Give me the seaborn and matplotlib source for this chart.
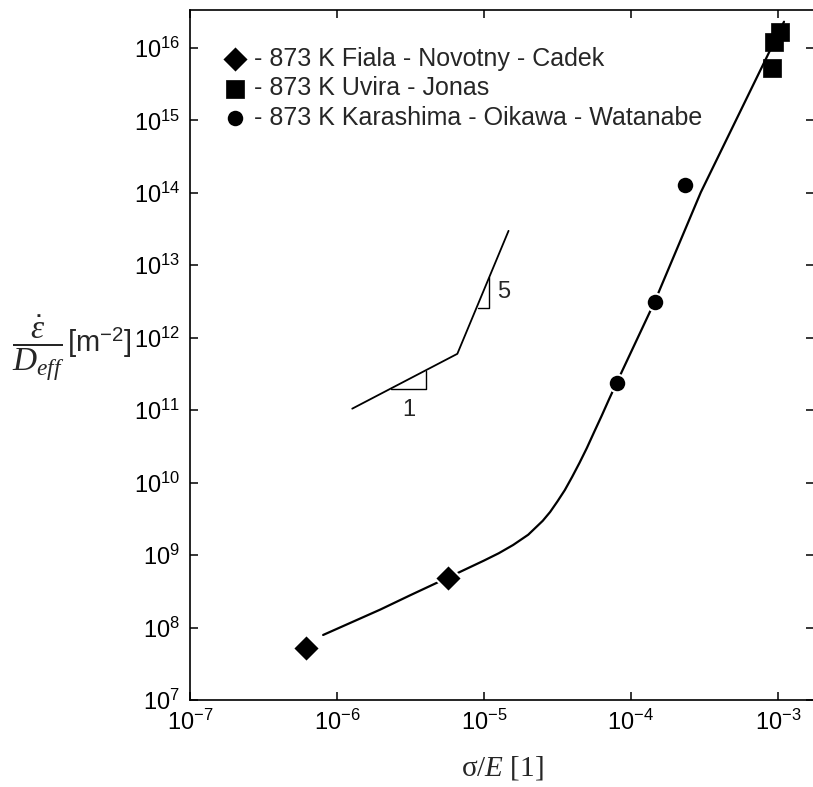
import numpy as np
import pandas as pd
import matplotlib
matplotlib.use("Agg")
import matplotlib.pyplot as plt
import seaborn as sns

# ---- data ----
fiala_x = [6.2e-7, 5.7e-6]
fiala_y = [5.3e7, 4.9e8]
uvira_x = [1.03e-3, 9.4e-4, 9.1e-4]
uvira_y = [1.66e16, 1.2e16, 5.3e15]
kara_x = [2.32e-4, 1.45e-4, 8.0e-5]
kara_y = [1.29e14, 3.14e12, 2.4e11]

curve_x = [8.05e-7, 1.97e-6, 3.16e-6, 5.7e-6, 1.0e-5, 1.26e-5, 1.58e-5, 2.0e-5,
           2.51e-5, 2.82e-5, 3.16e-5, 3.55e-5, 3.98e-5, 4.47e-5, 5.01e-5,
           5.62e-5, 6.31e-5, 7.08e-5, 8.0e-5, 1.45e-4, 2.99e-4, 1.10e-3]
curve_y = [7.9e7, 1.77e8, 2.8e8, 4.9e8, 8.4e8, 1.06e9, 1.38e9, 1.91e9,
           2.97e9, 3.94e9, 5.5e9, 7.9e9, 1.2e10, 1.88e10, 3.0e10,
           5.0e10, 8.3e10, 1.4e11, 2.4e11, 3.14e12, 1.02e14, 2.3e16]

# slope sketch (inset)
sketch_x = [1.27e-6, 6.59e-6, 1.47e-5]
sketch_y = [1.05e11, 6.0e11, 2.99e13]
tri1_x = [2.34e-6, 4.06e-6, 4.06e-6]
tri1_y = [1.98e11, 1.98e11, 3.5e11]
tri5_x = [9.04e-6, 1.09e-5, 1.09e-5]
tri5_y = [2.6e12, 2.6e12, 6.9e12]
slope_labels = ["1", "5"]
slope_label_x = [3.06e-6, 1.36e-5]
slope_label_y = [1.0e11, 4.3e12]

labels = ["- 873 K Fiala - Novotny - Cadek",
          "- 873 K Uvira - Jonas",
          "- 873 K Karashima - Oikawa - Watanabe"]

x_lim = (1e-7, 1.76e-3)
y_lim = (1e7, 3.34e16)
x_ticks = [1e-7, 1e-6, 1e-5, 1e-4, 1e-3]
y_ticks = [10.0 ** k for k in range(7, 17)]

# ---- style ----
sns.set_theme(style="ticks")
plt.rcParams["font.family"] = ["Liberation Sans", "DejaVu Sans"]
plt.rcParams["mathtext.fontset"] = "custom"
plt.rcParams["mathtext.rm"] = "Liberation Sans"
plt.rcParams["mathtext.sf"] = "Liberation Sans"
plt.rcParams["mathtext.it"] = "Liberation Serif:italic"
plt.rcParams["mathtext.bf"] = "Liberation Sans:bold"
plt.rcParams["axes.linewidth"] = 1.2

fig = plt.figure(figsize=(8.13, 7.87), dpi=100)
ax = fig.add_axes([190 / 813, 87 / 787, (814 - 190) / 813, (700 - 10) / 787])
ax.set_xscale("log")
ax.set_yscale("log")

sns.lineplot(x=curve_x, y=curve_y, sort=False, estimator=None, color="black",
             lw=1.6, ax=ax, zorder=2)

sns.scatterplot(x=fiala_x, y=fiala_y, marker="D", s=190, color="black",
                edgecolor="white", linewidth=1.5, label=labels[0], ax=ax, zorder=3)
sns.scatterplot(x=uvira_x, y=uvira_y, marker="s", s=150, color="black",
                edgecolor="black", linewidth=0.5, label=labels[1], ax=ax, zorder=3)
sns.scatterplot(x=kara_x, y=kara_y, marker="o", s=160, color="black",
                edgecolor="white", linewidth=1.5, label=labels[2], ax=ax, zorder=3)

# slope sketch
ax.plot(sketch_x, sketch_y, color="black", lw=1.3)
ax.plot(tri1_x, tri1_y, color="black", lw=1.0)
ax.plot(tri5_x, tri5_y, color="black", lw=1.0)
for t, xx, yy in zip(slope_labels, slope_label_x, slope_label_y):
    ax.text(xx, yy, t, fontsize=17, ha="center", va="center")

ax.set_xlim(*x_lim)
ax.set_ylim(*y_lim)
ax.set_xticks(x_ticks)
ax.set_yticks(y_ticks)
ax.minorticks_off()
ax.tick_params(which="both", direction="in", length=6, width=1.1, top=True,
               right=True, labelsize=17, pad=7, colors="black")
for s in ax.spines.values():
    s.set_color("black")

ax.set_xlabel("σ/$E$ [1]", fontsize=21, fontfamily="Liberation Serif", labelpad=14)

# y label: fraction + unit in brackets
fig.text(38 / 813, 1 - 348 / 787, r"$\dfrac{\dot{\varepsilon}}{D_{eff}}$",
         ha="center", va="center", fontsize=24)
fig.text(99 / 813, 1 - 343 / 787, "[m$^{-2}$]", ha="center", va="center",
         fontsize=21)

leg = ax.legend(loc="upper left", bbox_to_anchor=(0.052, 0.947), frameon=False,
                fontsize=18, handletextpad=0.25, labelspacing=0.22,
                borderaxespad=0.0, handlelength=1.0, borderpad=0.0)

fig.savefig("out.png", dpi=100)
